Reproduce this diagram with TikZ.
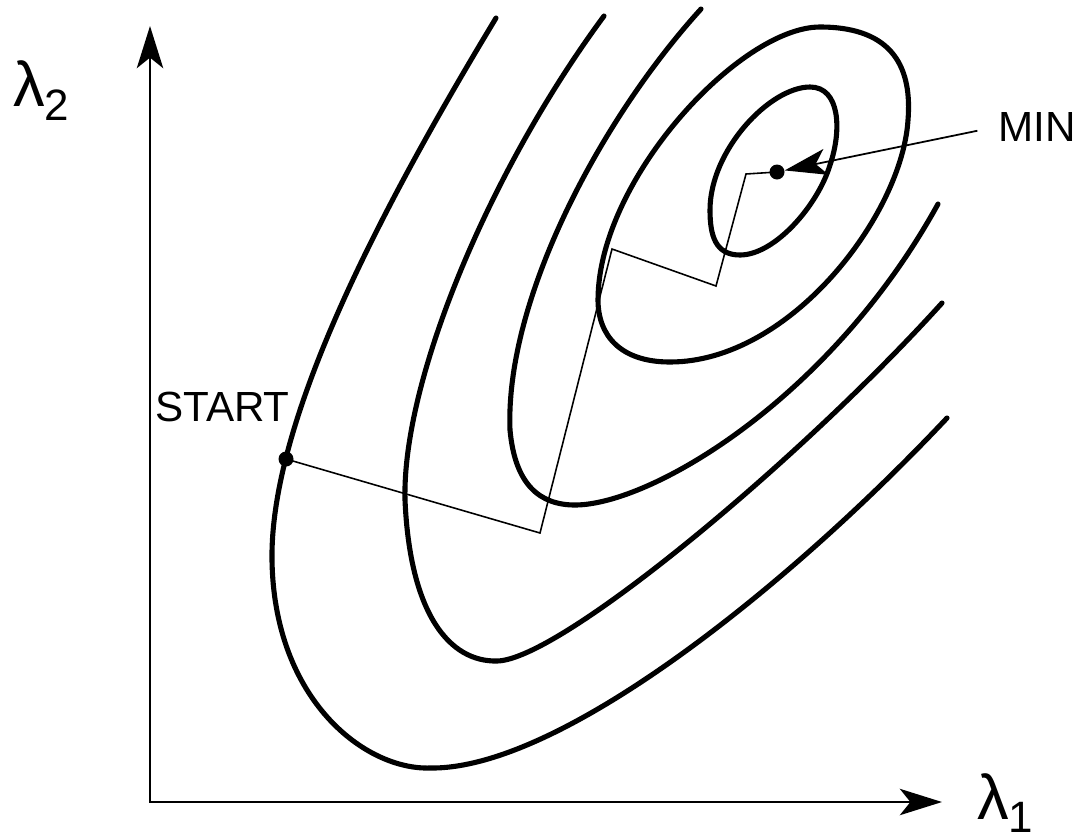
\documentclass[tikz,border=0pt]{standalone}
\usepackage{fontspec}
\setmainfont{Liberation Sans}
\usetikzlibrary{arrows.meta,positioning}

\begin{document}
\begin{tikzpicture}[
  x=0.02cm, y=-0.02cm,
  every node/.style={font=\fontsize{24}{29}\selectfont},
  contour/.style={line width=2.9pt, line cap=round},
  descent/.style={line width=0.9pt},
  axis/.style={line width=1.4pt, {Stealth[length=24pt, width=15pt, inset=6pt]}-{Stealth[length=24pt, width=15pt, inset=6pt]}},
  pointer/.style={line width=1pt, -{Stealth[length=24pt, width=15pt, inset=6pt]}},
  dot/.style={circle, fill=black, inner sep=0pt, minimum size=0.3cm},
  lbl/.style={anchor=base west, inner sep=0pt},
  big/.style={font=\fontsize{36}{40}\selectfont}
]
\useasboundingbox (0,0) rectangle (1078,839);

% axes
\coordinate (origin) at (150,802);
\coordinate (ytip) at (150,26);
\coordinate (xtip) at (942,802);
\draw[axis] (ytip) -- (origin) -- (xtip);
\node[lbl, big] (lam2) at (13,106) {λ\raisebox{-8pt}{\fontsize{25}{30}\selectfont 2}};
\node[lbl, big] (lam1) at (977,819) {λ\raisebox{-7.5pt}{\fontsize{25}{30}\selectfont 1}};

% open level curves
\draw[contour] (496,18) .. controls (380,210) and (270,420) .. (272,560)
  .. controls (274,700) and (365,770) .. (430,768)
  .. controls (560,770) and (790,585) .. (947,418);
\draw[contour] (604,16) .. controls (490,170) and (402,380) .. (405,500)
  .. controls (410,615) and (450,662) .. (497,661)
  .. controls (560,660) and (800,460) .. (942,303);
\draw[contour] (701,9) .. controls (600,120) and (505,300) .. (510,430)
  .. controls (515,485) and (540,505) .. (575,505)
  .. controls (650,505) and (830,400) .. (938,204);

% closed level curves round the minimum
\draw[contour] (598,300) .. controls (598,180) and (740,27) .. (820,27)
  .. controls (895,27) and (912,70) .. (908,120)
  .. controls (902,215) and (790,362) .. (670,362)
  .. controls (620,362) and (598,335) .. cycle;
\draw[contour] (710,210) .. controls (710,150) and (770,87) .. (810,87)
  .. controls (840,87) and (842,130) .. (830,165)
  .. controls (818,205) and (775,255) .. (740,255)
  .. controls (715,255) and (710,235) .. cycle;

% descent path
\node[dot] (startpt) at (286,459) {};
\node[dot] (minpt) at (777,172) {};
\coordinate (c1) at (540,533);
\coordinate (c2) at (612,249);
\coordinate (c3) at (716,286);
\coordinate (c4) at (746,174);
\draw[descent] (startpt.center) -- (c1) -- (c2) -- (c3) -- (c4) -- (minpt.center);

\node[lbl] (start) at (155,421) {START};
\node[lbl] (min) at (998,141) {MIN};
\draw[pointer, shorten <=12pt] (min.west) -- (minpt);

\end{tikzpicture}
\end{document}
